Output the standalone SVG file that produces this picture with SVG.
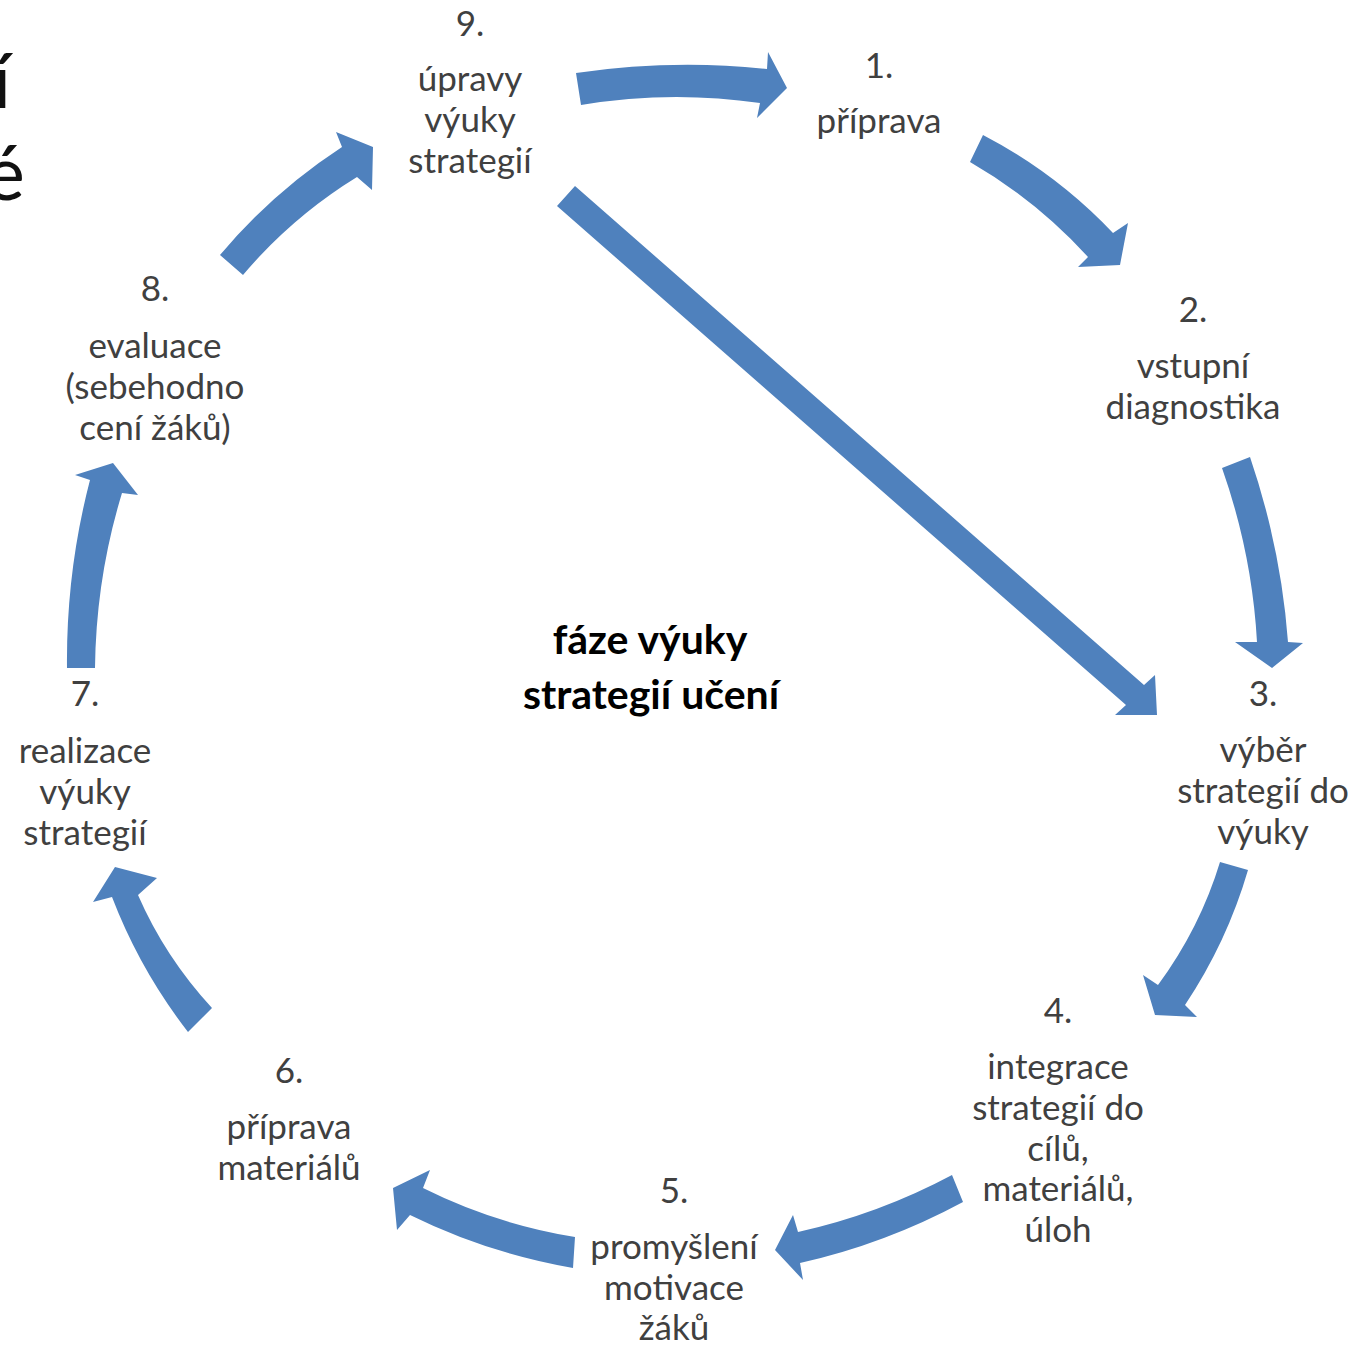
<svg xmlns="http://www.w3.org/2000/svg" width="1362" height="1345" viewBox="0 0 1362 1345">
<style>
.lbl{font-family:Lato,"Open Sans","Liberation Sans",sans-serif;font-size:35px;fill:#404040;text-anchor:middle}
.ctr{font-family:Lato,"Open Sans","Liberation Sans",sans-serif;font-size:41px;font-weight:bold;fill:#000;text-anchor:middle}
.big{font-family:Lato,"Open Sans","Liberation Sans",sans-serif;font-size:76px;fill:#111;text-anchor:end}
.arr{fill:#4F81BD;stroke:none}
</style>
<rect width="1362" height="1345" fill="#fff"/>
<g id="title-fragment">
<text class="big" x="11" y="108">í</text>
<text class="big" x="25" y="200">é</text>
</g>
<g id="connectors">
<path class="arr" d="M576,73 Q672,59 767,69 L768,52 L787,88 L757,118 L760,103 Q670,90 581,105 Z"/>
<path class="arr" d="M983,135 Q1056,173 1113,233 L1128,223 L1120,265 L1078,267 L1088,257 Q1036,200 970,162 Z"/>
<path class="arr" d="M1250,457 Q1281,548 1288,642 L1303,643 L1272,668 L1235,642 L1257,642 Q1252,553 1222,468 Z"/>
<path class="arr" d="M1248,870 Q1227,942 1185,1005 L1197,1017 L1155,1015 L1143,975 L1158,985 Q1200,928 1220,862 Z"/>
<path class="arr" d="M952,1175 Q879,1214 798,1232 L793,1215 L775,1250 L803,1280 L800,1263 Q885,1244 963,1202 Z"/>
<path class="arr" d="M575,1237 Q495,1224 423,1188 L430,1170 L393,1188 L397,1230 L410,1215 Q487,1253 573,1268 Z"/>
<path class="arr" d="M212,1008 Q165,957 138,895 L157,878 L115,867 L93,902 L112,897 Q140,970 188,1032 Z"/>
<path class="arr" d="M95,668 Q96,578 122,493 L138,495 L113,463 L75,475 L90,480 Q66,572 67,668 Z"/>
<path class="arr" d="M243,275 Q292,217 357,177 L372,190 L373,147 L336,132 L342,147 Q273,192 220,255 Z"/>
<path class="arr" d="M557,206 L575,186 L1144,685 L1155,675 L1157,715 L1115,715 L1126,705 Z"/>
</g>
<g id="center">
<text class="ctr" x="650" y="654">fáze výuky</text>
<text class="ctr" x="651" y="709">strategií učení</text>
</g>
<g id="node-9">
<text class="lbl" x="470" y="36">9.</text>
<text class="lbl" x="470" y="91">úpravy</text>
<text class="lbl" x="470" y="132">výuky</text>
<text class="lbl" x="470" y="173">strategií</text>
</g>
<g id="node-1">
<text class="lbl" x="879" y="78">1.</text>
<text class="lbl" x="879" y="133">příprava</text>
</g>
<g id="node-2">
<text class="lbl" x="1193" y="322">2.</text>
<text class="lbl" x="1193" y="378">vstupní</text>
<text class="lbl" x="1193" y="419">diagnostika</text>
</g>
<g id="node-3">
<text class="lbl" x="1263" y="706">3.</text>
<text class="lbl" x="1263" y="762">výběr</text>
<text class="lbl" x="1263" y="803">strategií do</text>
<text class="lbl" x="1263" y="844">výuky</text>
</g>
<g id="node-4">
<text class="lbl" x="1058" y="1023">4.</text>
<text class="lbl" x="1058" y="1079">integrace</text>
<text class="lbl" x="1058" y="1120">strategií do</text>
<text class="lbl" x="1058" y="1161">cílů,</text>
<text class="lbl" x="1058" y="1201">materiálů,</text>
<text class="lbl" x="1058" y="1242">úloh</text>
</g>
<g id="node-5">
<text class="lbl" x="674" y="1203">5.</text>
<text class="lbl" x="674" y="1259">promyšlení</text>
<text class="lbl" x="674" y="1300">motivace</text>
<text class="lbl" x="674" y="1340">žáků</text>
</g>
<g id="node-6">
<text class="lbl" x="289" y="1083">6.</text>
<text class="lbl" x="289" y="1139">příprava</text>
<text class="lbl" x="289" y="1180">materiálů</text>
</g>
<g id="node-7">
<text class="lbl" x="85" y="706">7.</text>
<text class="lbl" x="85" y="763">realizace</text>
<text class="lbl" x="85" y="804">výuky</text>
<text class="lbl" x="85" y="845">strategií</text>
</g>
<g id="node-8">
<text class="lbl" x="155" y="301">8.</text>
<text class="lbl" x="155" y="358">evaluace</text>
<text class="lbl" x="155" y="399">(sebehodno</text>
<text class="lbl" x="155" y="440">cení žáků)</text>
</g>
</svg>
